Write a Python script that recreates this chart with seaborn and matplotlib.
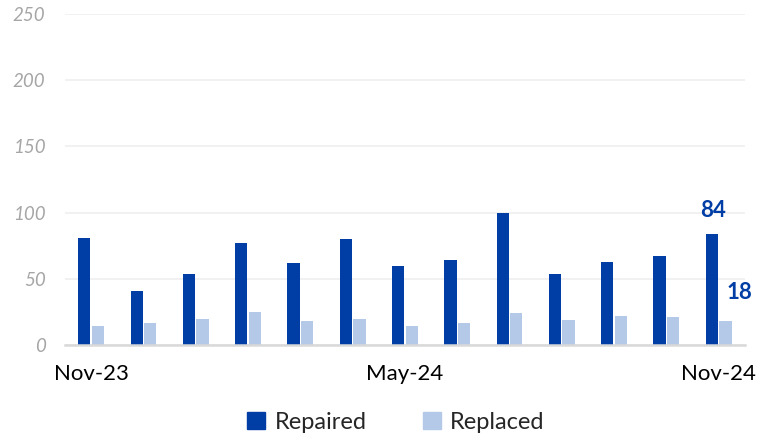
import pandas as pd
import numpy as np
import matplotlib
matplotlib.use("Agg")
import matplotlib.pyplot as plt
import seaborn as sns

months = ["Nov-23", "Dec-23", "Jan-24", "Feb-24", "Mar-24", "Apr-24", "May-24",
          "Jun-24", "Jul-24", "Aug-24", "Sep-24", "Oct-24", "Nov-24"]
repaired = [81, 41, 54, 77, 62, 80, 60, 64, 100, 54, 63, 67, 84]
replaced = [14, 17, 20, 25, 18, 20, 14, 17, 24, 19, 22, 21, 18]
shown_ticks = ["Nov-23", "May-24", "Nov-24"]

dark = "#003DA5"
light = "#B4C8E8"

df = pd.DataFrame({"month": months * 2,
                   "value": repaired + replaced,
                   "type": ["Repaired"] * len(months) + ["Replaced"] * len(months)})

sns.set_style("white")
plt.rcParams["font.family"] = ["Lato", "DejaVu Sans"]

fig = plt.figure(figsize=(7.6, 4.37), dpi=100)
ax = fig.add_axes([0.0855, 0.2105, 0.8945, 0.7575])

sns.barplot(data=df, x="month", y="value", hue="type", order=months,
            palette={"Repaired": dark, "Replaced": light}, saturation=1,
            width=0.52, gap=0.1, dodge=True, ax=ax, legend=False,
            edgecolor="none")

ax.set_ylim(0, 250)
ax.set_yticks(np.arange(0, 251, 50))
ax.set_xlim(-0.5, len(months) - 0.5)
ax.yaxis.grid(True, color="#EFEFEF", linewidth=1.2)
ax.set_axisbelow(True)
for s in ["top", "right", "left"]:
    ax.spines[s].set_visible(False)
ax.spines["bottom"].set_color("#D9D9D9")
ax.spines["bottom"].set_linewidth(1.8)

ax.set_xticks([months.index(m) for m in shown_ticks])
ax.set_xticklabels(shown_ticks, fontsize=16, color="black")
ax.tick_params(axis="x", length=0, pad=14)
ax.tick_params(axis="y", length=0, pad=14, labelsize=13.5, labelcolor="#A6A6A6")
for t in ax.get_yticklabels():
    t.set_fontstyle("italic")
ax.set_xlabel("")
ax.set_ylabel("")

last = len(months) - 1
ax.text(last - 0.1, repaired[-1] + 10, str(repaired[-1]), ha="center", va="bottom",
        fontsize=16, fontweight="bold", color=dark)
ax.text(last + 0.4, replaced[-1] + 22, str(replaced[-1]), ha="center", va="center",
        fontsize=16, fontweight="bold", color=dark)

handles = [plt.Rectangle((0, 0), 1, 1, color=dark), plt.Rectangle((0, 0), 1, 1, color=light)]
fig.legend(handles, ["Repaired", "Replaced"], loc="center", bbox_to_anchor=(0.521, 0.034),
           ncol=2, frameon=False, fontsize=17, handlelength=0.75, handleheight=0.75,
           handletextpad=0.4, columnspacing=2.4)

fig.savefig("out.png", dpi=100)
